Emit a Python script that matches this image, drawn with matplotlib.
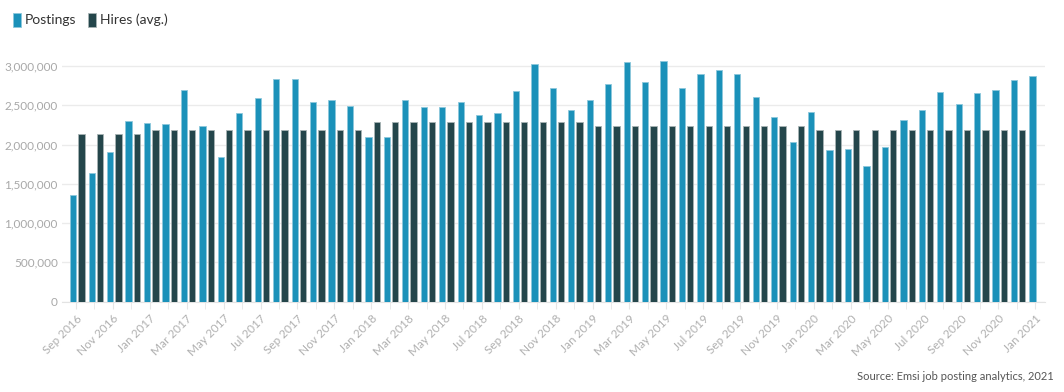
import numpy as np
import matplotlib.pyplot as plt
from matplotlib.ticker import FuncFormatter

plt.rcParams['font.family'] = ['Lato', 'DejaVu Sans']

# Monthly data, Sep 2016 - Jan 2021
months = ["Sep 2016", "Oct 2016", "Nov 2016", "Dec 2016",
          "Jan 2017", "Feb 2017", "Mar 2017", "Apr 2017", "May 2017", "Jun 2017",
          "Jul 2017", "Aug 2017", "Sep 2017", "Oct 2017", "Nov 2017", "Dec 2017",
          "Jan 2018", "Feb 2018", "Mar 2018", "Apr 2018", "May 2018", "Jun 2018",
          "Jul 2018", "Aug 2018", "Sep 2018", "Oct 2018", "Nov 2018", "Dec 2018",
          "Jan 2019", "Feb 2019", "Mar 2019", "Apr 2019", "May 2019", "Jun 2019",
          "Jul 2019", "Aug 2019", "Sep 2019", "Oct 2019", "Nov 2019", "Dec 2019",
          "Jan 2020", "Feb 2020", "Mar 2020", "Apr 2020", "May 2020", "Jun 2020",
          "Jul 2020", "Aug 2020", "Sep 2020", "Oct 2020", "Nov 2020", "Dec 2020",
          "Jan 2021"]

postings = [1358000, 1634000, 1905000, 2300000,
            2279000, 2257000, 2694000, 2240000, 1846000, 2406000,
            2588000, 2834000, 2834000, 2537000, 2563000, 2491000,
            2092000, 2092000, 2563000, 2474000, 2474000, 2537000,
            2376000, 2397000, 2682000, 3021000, 2716000, 2440000,
            2567000, 2771000, 3047000, 2801000, 3059000, 2724000,
            2898000, 2949000, 2898000, 2605000, 2351000, 2033000,
            2414000, 1931000, 1939000, 1727000, 1965000, 2308000,
            2440000, 2669000, 2516000, 2661000, 2699000, 2822000,
            2877000]

hires = [2134000] * 4 + [2185000] * 12 + [2287000] * 12 + [2232000] * 12 + [2181000] * 12

x = np.arange(len(months))

fig = plt.figure(figsize=(10.64, 3.92), dpi=100)
ax = fig.add_axes([0.0583, 0.2304, 0.9237, 0.6293])

ax.bar(x - 0.15, postings, width=0.34, color='#1b91b9', edgecolor='#8cc8dc', linewidth=0.6, label='Postings', zorder=3)
ax.bar(x[:len(hires)] + 0.3, hires, width=0.34, color='#24464b', edgecolor='#a7b3b4', linewidth=0.6, label='Hires (avg.)', zorder=3)

ax.set_xlim(-0.76, 52.52)
ax.set_ylim(0, 3.14e6)
ax.set_yticks(np.arange(0, 3000001, 500000))
ax.yaxis.set_major_formatter(FuncFormatter(lambda v, p: f"{int(v):,}"))
ax.grid(axis='y', color='#ebebeb', linewidth=1, zorder=0)

ax.set_xticks(x, minor=True)
ax.set_xticks(x[::2])
ax.set_xticklabels(months[::2], rotation=45, ha='right', rotation_mode='anchor')

for s in ['top', 'right', 'left']:
    ax.spines[s].set_visible(False)
ax.spines['bottom'].set_color('#e3e3e3')
ax.tick_params(axis='y', length=0, labelsize=8.5, colors='#a8a8a8', pad=3)
ax.tick_params(axis='x', which='both', length=5, color='#e6e6e6', labelsize=8.5, labelcolor='#b0b0b0', pad=3)

fig.legend(loc='upper left', bbox_to_anchor=(0.0, 1.0), ncol=2, frameon=False,
           handlelength=0.6, handleheight=1.2, handletextpad=0.3, columnspacing=0.8,
           fontsize=10, labelcolor='#333333')

fig.text(0.99, 0.025, "Source: Emsi job posting analytics, 2021", ha='right', va='bottom',
         fontsize=8, color='#555555')

fig.savefig("out.png", dpi=100)
